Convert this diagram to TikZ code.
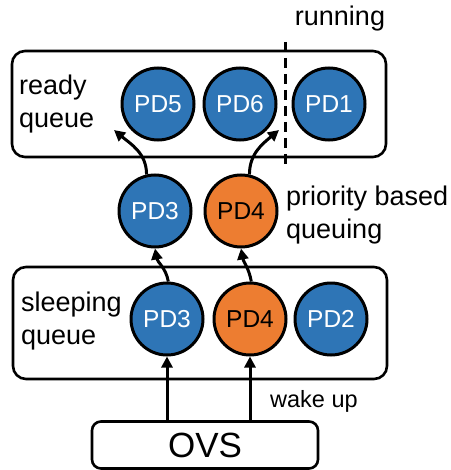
\documentclass[tikz,border=0pt]{standalone}
\usepackage{fontspec}
\setmainfont{Liberation Sans}
\usetikzlibrary{arrows.meta}
\definecolor{pdblue}{HTML}{2E75B6}
\definecolor{pdorange}{HTML}{ED7D31}
\begin{document}
\begin{tikzpicture}[x=1pt,y=-1pt,
  pd/.style={circle,draw=black,line width=3pt,minimum size=72pt,inner sep=0pt,font=\fontsize{24.5}{28}\selectfont},
  pdb/.style={pd,fill=pdblue,text=white},
  pdo/.style={pd,fill=pdorange,text=black},
  qbox/.style={draw=black,line width=2.6pt,rounded corners=13pt},
  lbl/.style={font=\fontsize{27}{32.5}\selectfont,align=left,inner sep=0pt},
  arr/.style={line width=3pt,-{Triangle[length=11pt,width=11pt]}}]
\useasboundingbox (0,0) rectangle (450,470);
% boxes
\draw[qbox] (12,51) rectangle (386,157);
\draw[qbox] (13,267) rectangle (387,379);
\node[draw=black,line width=2.6pt,rounded corners=9pt,minimum width=226pt,minimum height=47pt,inner sep=0pt,font=\fontsize{35}{40}\selectfont] (ovs) at (205,445) {OVS};
% dashed divider
\coordinate (dtop) at (285,42);
\coordinate (dbot) at (285,170);
\draw[line width=3pt,dash pattern=on 10pt off 6pt] (dtop) -- (dbot);
% ready queue
\node[pdb] (r5) at (158,104) {PD5};
\node[pdb] (r6) at (240,104) {PD6};
\node[pdb] (r1) at (329,104) {PD1};
% middle
\node[pdb] (m3) at (155,211) {PD3};
\node[pdo] (m4) at (241,211) {PD4};
% sleeping
\node[pdb] (s3) at (167,319) {PD3};
\node[pdo] (s4) at (250,319) {PD4};
\node[pdb] (s2) at (331,319) {PD2};
% labels
\node[lbl,anchor=west] (rq) at (19,104) {ready\\queue};
\node[lbl,anchor=west] (sq) at (21,321) {sleeping\\queue};
\node[lbl] (run) at (340,19) {running};
\node[lbl,anchor=west] (pbq) at (286,215) {priority based\\queuing};
\node[font=\fontsize{23.5}{28}\selectfont,inner sep=0pt,anchor=west] (wu) at (270,401) {wake up};
% arrows
\coordinate (e3) at (114,130);
\coordinate (e4) at (279,130);
\draw[arr] (m3.103) to[out=90,in=-40] (e3);
\draw[arr] (m4.77) to[out=90,in=220] (e4);
\draw[arr] (s3.88) to[out=100,in=-80] (m3.-90);
\draw[arr] (s4.88) to[out=100,in=-80] (m4.-90);
\draw[arr] (ovs.north -| s3) -- (s3.south);
\draw[arr] (ovs.north -| s4) -- (s4.south);
\end{tikzpicture}
\end{document}
